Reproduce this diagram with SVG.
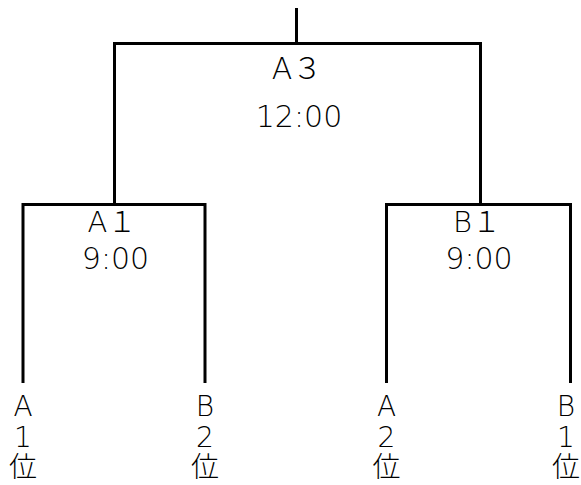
<svg xmlns="http://www.w3.org/2000/svg" width="581" height="485" viewBox="0 0 581 485">
<style>
.ln{stroke:#000;stroke-width:3;fill:none;stroke-linecap:butt;stroke-linejoin:miter}
text{font-family:"DejaVu Sans","Noto Sans CJK JP",sans-serif;font-weight:300;fill:#000;text-anchor:middle}
.big{font-size:30px}
.mid{font-size:29px}
.leaf{font-size:28px}
</style>
<rect width="581" height="485" fill="#fff"/>
<g id="connectors">
<path class="ln" d="M296.5 8V43.5"/>
<path class="ln" d="M114.5 205V43.5H480.5V205"/>
<path class="ln" d="M23 383V204.5H205V383"/>
<path class="ln" d="M386.5 383V204.5H570.5V383"/>
</g>
<g id="final">
<text class="big" x="297" y="79">A３</text>
<text class="big" x="299" y="127.3">12:00</text>
</g>
<g id="semiA">
<text class="mid" x="112" y="232.3">A１</text>
<text class="big" x="115.5" y="269">9:00</text>
</g>
<g id="semiB">
<text class="mid" x="477" y="232.3">B１</text>
<text class="big" x="479" y="269">9:00</text>
</g>
<g id="leafA1">
<text class="leaf" x="23" y="416">A</text>
<text class="leaf" x="23" y="446.7">1</text>
<text class="leaf" x="23" y="477">位</text>
</g>
<g id="leafB2">
<text class="leaf" x="205" y="416">B</text>
<text class="leaf" x="205" y="446.7">2</text>
<text class="leaf" x="205" y="477">位</text>
</g>
<g id="leafA2">
<text class="leaf" x="386.5" y="416">A</text>
<text class="leaf" x="386.5" y="446.7">2</text>
<text class="leaf" x="386.5" y="477">位</text>
</g>
<g id="leafB1">
<text class="leaf" x="566" y="416">B</text>
<text class="leaf" x="566" y="446.7">1</text>
<text class="leaf" x="566" y="477">位</text>
</g>
</svg>
